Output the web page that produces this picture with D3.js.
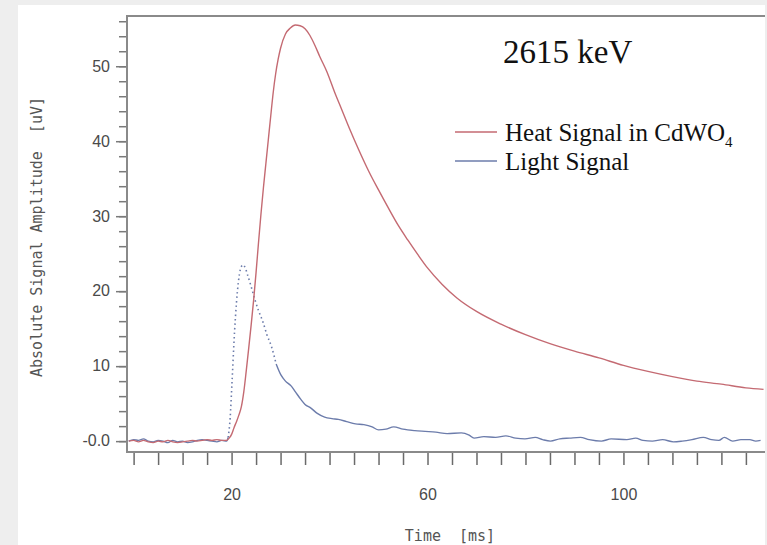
<!DOCTYPE html>
<html><head><meta charset="utf-8">
<script src="https://cdn.jsdelivr.net/npm/d3@7"></script>
<style>
html,body{margin:0;padding:0;background:#eeeeee;}
svg{display:block;}
</style></head>
<body>
<svg id="chart" width="767" height="545"></svg>
<script>
// ---- data ----
const heatTime  = [-1,0,1,2,3,4,5,6,7,8,9,10,11,12,13,14,15,16,17,18,19,19.5,20,20.5,21,21.5,22,22.5,23,23.5,24,24.5,25,25.5,26,26.5,27,27.5,28,28.5,29,29.5,30,31,32,33,34,35,36,37,38,39.5,41,42.5,44,46,48,50,52,54,56,58,60,63,66,70,75,80,85,90,95,100,105,110,115,120,125,128.6];
const heatValue = [0,0.1,-0.1,0.1,-0.1,-0.2,0.0,-0.1,0.1,-0.1,-0.2,-0.1,0,0.1,0,0.1,0.2,0.1,0.2,0.1,0.1,0.4,0.9,1.8,2.6,3.5,4.6,6.6,9.4,12.4,15.5,18.8,22.5,26.5,30.3,33.8,37.0,40.2,43.4,46.5,49.0,50.9,52.4,54.3,55.1,55.5,55.4,55.0,54.1,52.8,51.3,49.2,46.6,44.2,41.8,38.8,36.0,33.5,31.1,28.8,26.8,24.9,23.1,20.9,19.1,17.3,15.6,14.2,13.0,12.0,11.1,10.1,9.3,8.6,8.0,7.6,7.1,6.9];

const lightBaseTime  = [-1,0,1,2,3,4,5,6,7,8,9,10,11,12,13,14,15,16,17,18,19,19.3];
const lightBaseValue = [0.0,0.2,0.1,0.3,0.0,-0.1,0.1,0.0,-0.2,0.1,-0.1,0,-0.2,-0.1,0.1,0.2,0.1,0.0,-0.1,0.1,0.0,0.5];
const lightRiseTime  = [19.3,19.7,20.1,20.6,21,21.4,21.8,22.3,22.8,23.3,24,24.7,25.5,26.4,27.2,28.1,29.1];
const lightRiseValue = [0.5,3,8,14.5,18.5,21.3,22.9,23.5,23.1,22.1,20.6,19.0,17.4,15.9,14.2,12.7,10.3];
const lightTailTime  = [29.1,30.1,31,32.1,33,34.1,35,36.2,37.5,39,40.5,41.8,43.5,45.3,47,48.7,50,51.5,53.1,55,57.4,59.5,61.7,64,66.9,68.5,69.5,71.5,73.9,76,78,79.9,82,83.5,85.1,87,89,91.2,93,95.5,97.5,100.7,102.5,104,105.9,108,110.2,112,114,116.3,118,119.5,120.6,122.3,124,125.8,127,128];
const lightTailValue = [10.3,8.8,8.0,7.4,6.6,5.6,4.9,4.4,3.7,3.2,3.0,2.9,2.6,2.3,2.2,1.9,1.5,1.6,1.9,1.6,1.4,1.3,1.2,1.0,1.1,0.8,0.4,0.6,0.5,0.7,0.4,0.3,0.5,0.2,0.0,0.3,0.4,0.5,0.2,0.0,0.3,0.2,0.4,0.1,0.0,0.2,-0.1,0.0,0.2,0.5,0.2,0.1,0.5,0.0,0.2,0.2,0.0,0.1];

const yMajorTicks = [0,10,20,30,40,50];
const yTickLabels = ["-0.0","10","20","30","40","50"];
const xLabelTicks = [20,60,100];
const legendLabels = ["Heat Signal in CdWO", "Light Signal"];
const titleText = "2615 keV";

// ---- layout ----
const svg = d3.select("#chart");
const frame = {left:127, top:16, right:765, bottom:452};
const x = d3.scaleLinear().domain([-1.35, 128.9]).range([frame.left, frame.right]);
const y = d3.scaleLinear().domain([-1.45, 56.7]).range([frame.bottom, frame.top]);

const heatColor = "#c46a72";
const lightColor = "#6c7cab";

svg.append("rect").attr("x",18).attr("y",5).attr("width",747).attr("height",545).attr("fill","#ffffff");

const tickFont = "Liberation Sans, Arial, sans-serif";

// axes
const yMinor = d3.range(0, 57, 2);
const yAxis = d3.axisLeft(y).tickValues(yMinor).tickSize(8).tickFormat("");
svg.append("g").attr("transform",`translate(${frame.left},0)`).call(yAxis)
  .call(g=>{g.select(".domain").remove(); g.selectAll("line").attr("stroke","#7a7a7a").attr("stroke-width",1.5);});
const yMajor = d3.axisLeft(y).tickValues(yMajorTicks).tickSize(11).tickPadding(6)
  .tickFormat((d,i)=>yTickLabels[i]);
svg.append("g").attr("transform",`translate(${frame.left},0)`).call(yMajor)
  .call(g=>{g.select(".domain").remove(); g.selectAll("line").attr("stroke","#7a7a7a").attr("stroke-width",1.5);
    g.selectAll("text").attr("font-family",tickFont).attr("font-size",16).attr("fill","#4a4a4a").attr("dy","0.3em");});

const xMinor = d3.range(0, 126, 5);
const xAxis = d3.axisBottom(x).tickValues(xMinor).tickSize(13).tickFormat("");
svg.append("g").attr("transform",`translate(0,${frame.bottom})`).call(xAxis)
  .call(g=>{g.select(".domain").remove(); g.selectAll("line").attr("stroke","#6a6a6a").attr("stroke-width",1.5);});
const xLab = d3.axisBottom(x).tickValues(xLabelTicks).tickSize(0).tickPadding(37).tickFormat(d3.format("d"));
svg.append("g").attr("transform",`translate(0,${frame.bottom})`).call(xLab)
  .call(g=>{g.select(".domain").remove();
    g.selectAll("text").attr("font-family",tickFont).attr("font-size",16).attr("fill","#4a4a4a");});

// frame lines
svg.append("path").attr("d",`M${frame.right},${frame.top}H${frame.left}V${frame.bottom}H${frame.right}`)
  .attr("fill","none").attr("stroke","#8a8a8a").attr("stroke-width",2);

// axis titles
svg.append("text").attr("transform","translate(42,237) rotate(-90)").attr("text-anchor","middle")
  .attr("font-family","DejaVu Sans Mono, monospace").attr("font-size",15).attr("fill","#555")
  .attr("xml:space","preserve").style("white-space","pre")
  .text("Absolute Signal Amplitude  [uV]");
svg.append("text").attr("x",450).attr("y",541).attr("text-anchor","middle")
  .attr("font-family","DejaVu Sans Mono, monospace").attr("font-size",15).attr("fill","#555")
  .style("white-space","pre")
  .text("Time  [ms]");

// lines
const line = d3.line().x(d=>x(d[0])).y(d=>y(d[1])).curve(d3.curveMonotoneX);
const zip = (a,b)=>a.map((v,i)=>[v,b[i]]);
svg.append("path").datum(zip(lightBaseTime,lightBaseValue)).attr("d",line)
  .attr("fill","none").attr("stroke",lightColor).attr("stroke-width",1.4);
svg.append("path").datum(zip(lightRiseTime,lightRiseValue)).attr("d",line)
  .attr("fill","none").attr("stroke",lightColor).attr("stroke-width",1.6).attr("stroke-dasharray","1.5,3");
svg.append("path").datum(zip(lightTailTime,lightTailValue)).attr("d",line)
  .attr("fill","none").attr("stroke",lightColor).attr("stroke-width",1.4);
svg.append("path").datum(zip(heatTime,heatValue)).attr("d",line)
  .attr("fill","none").attr("stroke",heatColor).attr("stroke-width",1.4);

// title
svg.append("text").attr("x",503).attr("y",63).attr("font-family","Liberation Serif, Times New Roman, serif")
  .attr("font-size",33).attr("fill","#111").text(titleText);

// legend
const leg = svg.append("g");
[heatColor, lightColor].forEach((c,i)=>{
  const yy = 132 + i*29;
  leg.append("line").attr("x1",455).attr("x2",497).attr("y1",yy).attr("y2",yy).attr("stroke",c).attr("stroke-width",1.5);
  const t = leg.append("text").attr("x",505).attr("y",yy+9).attr("font-family","Liberation Serif, Times New Roman, serif")
    .attr("font-size",25).attr("fill","#111").text(legendLabels[i]);
  if(i===0) t.append("tspan").attr("font-size",15).attr("dy",6).text("4");
});
</script>
</body></html>
